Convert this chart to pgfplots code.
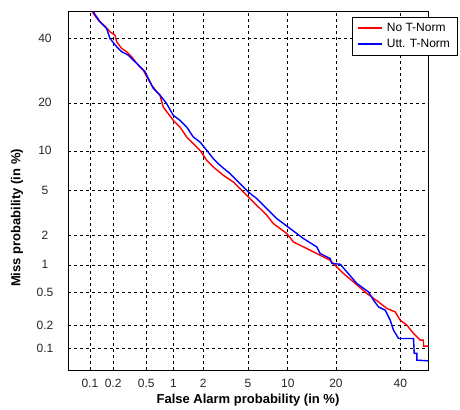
\documentclass[border=0pt]{standalone}
\usepackage{fontspec}
\setmainfont{Liberation Sans}
\usepackage{pgfplots}
\pgfplotsset{compat=1.18}
% DET plot: both axes are in normal-deviate (probit) units, tick labels in %
\begin{document}
\begin{tikzpicture}
\begin{axis}[
  scale only axis, width=360pt, height=359pt,
  xmin=-3.2905, xmax=0, ymin=-3.2905, ymax=0,
  xtick={-3.0902,-2.8782,-2.5758,-2.3263,-2.0537,-1.6449,-1.2816,-0.8416,-0.2533},
  xticklabels={0.1,0.2,0.5,1,2,5,10,20,40},
  ytick={-3.0902,-2.8782,-2.5758,-2.3263,-2.0537,-1.6449,-1.2816,-0.8416,-0.2533},
  yticklabels={0.1,0.2,0.5,1,2,5,10,20,40},
  major tick length=0pt,
  grid=major,
  major grid style={black, line width=0.6pt, dash pattern=on 3pt off 3pt},
  axis line style={black, line width=0.8pt},
  tick label style={font=\fontsize{12}{14}\selectfont, text=black!85},
  xticklabel style={anchor=center, yshift=-13pt},
  yticklabel style={anchor=center, xshift=-23pt},
  xlabel={False Alarm probability (in \%)},
  ylabel={Miss probability (in \%)},
  xlabel style={at={(axis description cs:0.5,-0.0836)}, anchor=center, font=\fontsize{13}{15}\selectfont\bfseries},
  ylabel style={at={(axis description cs:-0.1417,0.4234)}, anchor=center, font=\fontsize{13}{15}\selectfont\bfseries},
  legend style={at={(axis description cs:0.789,0.9825)}, anchor=north west,
    draw=black, fill=white, font=\fontsize{12}{14}\selectfont,
    inner xsep=5pt, inner ysep=4pt, row sep=2pt, column sep=2pt},
  legend cell align=left,
  legend image code/.code={\draw[#1] (0pt,0.3pt) -- (24pt,0.3pt);},
  legend image post style={line width=1.6pt},
]
\addplot[red, line width=1.4pt] coordinates {
  (-3.0692,-0.0069) (-3.0143,-0.0838) (-2.9466,-0.1442) (-2.9072,-0.1900)
  (-2.8615,-0.2212) (-2.8459,-0.2816) (-2.8002,-0.3429) (-2.7544,-0.3732)
  (-2.7087,-0.4190) (-2.6483,-0.4959) (-2.6025,-0.5417) (-2.5714,-0.6021)
  (-2.5257,-0.6790) (-2.4800,-0.7395) (-2.4498,-0.7734) (-2.4196,-0.8805)
  (-2.3281,-1.0023) (-2.2668,-1.0636) (-2.2055,-1.1552) (-2.1451,-1.2157)
  (-2.0838,-1.2770) (-2.0225,-1.3686) (-1.9621,-1.4299) (-1.8706,-1.5060)
  (-1.7791,-1.5673) (-1.7023,-1.6433) (-1.6565,-1.6891) (-1.5961,-1.7505)
  (-1.5348,-1.8109) (-1.4735,-1.8723) (-1.4132,-1.9483) (-1.2906,-2.0398)
  (-1.2302,-2.1168) (-1.1076,-2.1772) (-0.9859,-2.2386) (-0.8944,-2.2843)
  (-0.8487,-2.3301) (-0.7727,-2.4061) (-0.6812,-2.4831) (-0.5586,-2.5893)
  (-0.4525,-2.6662) (-0.3757,-2.7266) (-0.2997,-2.7578) (-0.2540,-2.8338)
  (-0.1927,-2.8796) (-0.1323,-2.9556) (-0.0710,-3.0169) (-0.0408,-3.0169)
  (-0.0408,-3.0719) (0,-3.0719)
};
\addlegendentry{No T-Norm}
\addplot[blue, line width=1.4pt] coordinates {
  (-3.0600,-0.0069) (-2.9987,-0.0984) (-2.9374,-0.1598) (-2.9072,-0.2514)
  (-2.8459,-0.3274) (-2.8002,-0.3732) (-2.7398,-0.4043) (-2.6629,-0.4803)
  (-2.5870,-0.5563) (-2.5111,-0.7092) (-2.4498,-0.7706) (-2.3885,-0.8494)
  (-2.3281,-0.9565) (-2.2668,-1.0023) (-2.2055,-1.0636) (-2.1451,-1.1552)
  (-2.0838,-1.2010) (-2.0225,-1.2770) (-1.9621,-1.3530) (-1.9008,-1.4144)
  (-1.8093,-1.4904) (-1.7178,-1.5820) (-1.6419,-1.6589) (-1.5650,-1.7193)
  (-1.4735,-1.8109) (-1.3820,-1.9025) (-1.2604,-1.9940) (-1.1387,-2.0856)
  (-1.0161,-2.1625) (-0.9859,-2.2230) (-0.8944,-2.2688) (-0.8789,-2.3146)
  (-0.8029,-2.3210) (-0.7416,-2.3915) (-0.6501,-2.4977) (-0.5440,-2.5746)
  (-0.4982,-2.6506) (-0.4525,-2.7120) (-0.3912,-2.7422) (-0.3455,-2.8338)
  (-0.3152,-2.9254) (-0.2695,-3.0014) (-0.1323,-3.0014) (-0.1259,-3.1387)
  (-0.1012,-3.1387) (-0.1012,-3.2001) (0,-3.2065)
};
\addlegendentry{Utt. T-Norm}
\coordinate (sw) at (rel axis cs:0,0);
\end{axis}
\path (sw) ++(-68pt,-38pt) rectangle ++(460pt,408pt);
\end{tikzpicture}
\end{document}
